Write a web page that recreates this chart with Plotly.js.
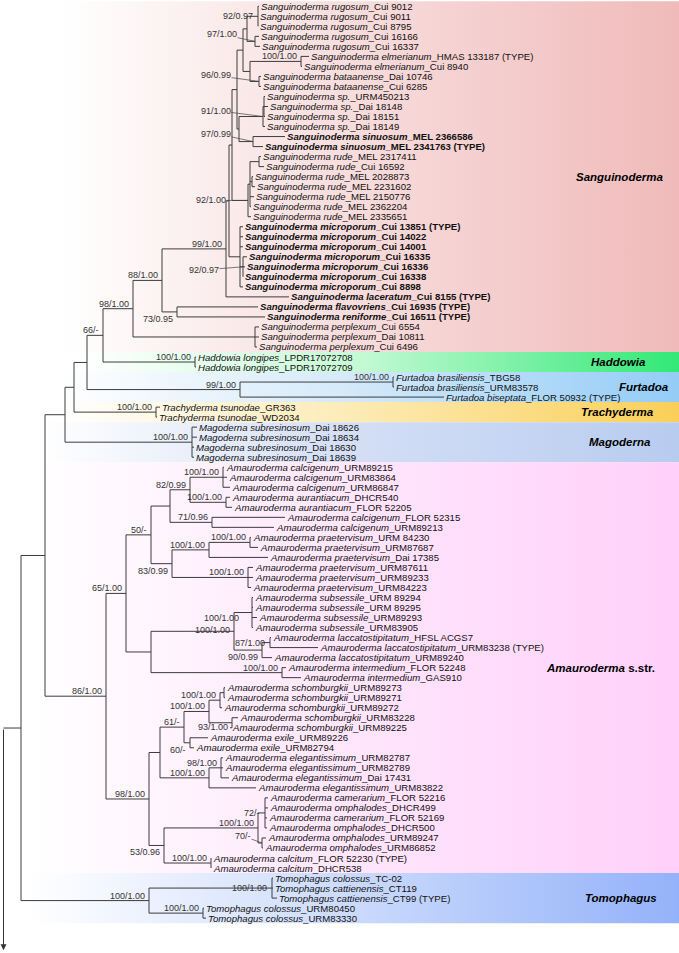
<!DOCTYPE html>
<html><head><meta charset="utf-8">
<script src="https://cdn.plot.ly/plotly-3.0.1.min.js"></script>
<style>html,body{margin:0;padding:0;background:#fff}#chart{width:679px;height:953px}</style>
</head><body><div id="chart"></div>
<script>
// ================= DATA =================
const taxa = [
 'Sanguinoderma rugosum','Sanguinoderma rugosum','Sanguinoderma rugosum','Sanguinoderma rugosum','Sanguinoderma rugosum',
 'Sanguinoderma elmerianum','Sanguinoderma elmerianum',
 'Sanguinoderma bataanense','Sanguinoderma bataanense',
 'Sanguinoderma sp.','Sanguinoderma sp.','Sanguinoderma sp.','Sanguinoderma sp.',
 'Sanguinoderma sinuosum','Sanguinoderma sinuosum',
 'Sanguinoderma rude','Sanguinoderma rude','Sanguinoderma rude','Sanguinoderma rude','Sanguinoderma rude','Sanguinoderma rude','Sanguinoderma rude',
 'Sanguinoderma microporum','Sanguinoderma microporum','Sanguinoderma microporum','Sanguinoderma microporum','Sanguinoderma microporum','Sanguinoderma microporum','Sanguinoderma microporum',
 'Sanguinoderma laceratum','Sanguinoderma flavovriens','Sanguinoderma reniforme',
 'Sanguinoderma perplexum','Sanguinoderma perplexum','Sanguinoderma perplexum',
 'Haddowia longipes','Haddowia longipes',
 'Furtadoa brasiliensis','Furtadoa brasiliensis','Furtadoa biseptata',
 'Trachyderma tsunodae','Trachyderma tsunodae',
 'Magoderna subresinosum','Magoderna subresinosum','Magoderna subresinosum','Magoderna subresinosum',
 'Amauroderma calcigenum','Amauroderma calcigenum','Amauroderma calcigenum','Amauroderma aurantiacum','Amauroderma aurantiacum','Amauroderma calcigenum','Amauroderma calcigenum',
 'Amauroderma praetervisum','Amauroderma praetervisum','Amauroderma praetervisum','Amauroderma praetervisum','Amauroderma praetervisum','Amauroderma praetervisum',
 'Amauroderma subsessile','Amauroderma subsessile','Amauroderma subsessile','Amauroderma subsessile',
 'Amauroderma laccatostipitatum','Amauroderma laccatostipitatum','Amauroderma laccatostipitatum',
 'Amauroderma intermedium','Amauroderma intermedium',
 'Amauroderma schomburgkii','Amauroderma schomburgkii','Amauroderma schomburgkii','Amauroderma schomburgkii','Amauroderma schomburgkii',
 'Amauroderma exile','Amauroderma exile',
 'Amauroderma elegantissimum','Amauroderma elegantissimum','Amauroderma elegantissimum','Amauroderma elegantissimum',
 'Amauroderma camerarium','Amauroderma omphalodes','Amauroderma camerarium','Amauroderma omphalodes','Amauroderma omphalodes','Amauroderma omphalodes',
 'Amauroderma calcitum','Amauroderma calcitum',
 'Tomophagus colossus','Tomophagus cattienensis','Tomophagus cattienensis','Tomophagus colossus','Tomophagus colossus'
];
const vouchers = [
 'Cui 9012','Cui 9011','Cui 8795','Cui 16166','Cui 16337',
 'HMAS 133187 (TYPE)','Cui 8940',
 'Dai 10746','Cui 6285',
 'URM450213','Dai 18148','Dai 18151','Dai 18149',
 'MEL 2366586','MEL 2341763 (TYPE)',
 'MEL 2317411','Cui 16592','MEL 2028873','MEL 2231602','MEL 2150776','MEL 2362204','MEL 2335651',
 'Cui 13851 (TYPE)','Cui 14022','Cui 14001','Cui 16335','Cui 16336','Cui 16338','Cui 8898',
 'Cui 8155 (TYPE)','Cui 16935 (TYPE)','Cui 16511 (TYPE)',
 'Cui 6554','Dai 10811','Cui 6496',
 'LPDR17072708','LPDR17072709',
 'TBG58','URM83578','FLOR 50932 (TYPE)',
 'GR363','WD2034',
 'Dai 18626','Dai 18634','Dai 18630','Dai 18639',
 'URM89215','URM83864','URM86847','DHCR540','FLOR 52205','FLOR 52315','URM89213',
 'URM 84230','URM87687','Dai 17385','URM87611','URM89233','URM84223',
 'URM 89294','URM 89295','URM89293','URM83905',
 'HFSL ACGS7','URM83238 (TYPE)','URM89240',
 'FLOR 52248','GAS910',
 'URM89273','URM89271','URM89272','URM83228','URM89225',
 'URM89226','URM82794',
 'URM82787','URM82789','Dai 17431','URM83822',
 'FLOR 52216','DHCR499','FLOR 52169','DHCR500','URM89247','URM86852',
 'FLOR 52230 (TYPE)','DHCR538',
 'TC-02','CT119','CT99 (TYPE)','URM80450','URM83330'
];
const boldTips = [13,14,22,23,24,25,26,27,28,29,30,31];
const tipDepth = [
 259,258,258,259,260, 309,302, 261,261, 265,268,265,265, 285,263,
 261,264,253,255,254,251,251, 243,243,243,247,245,243,243,
 289,258,265, 259,259,257, 196,196, 394,394,444, 160,157, 197,197,194,194,
 224,227,230,230,232,285,274, 251,258,268,253,253,251, 253,253,257,253,
 271,318,272, 286,301, 225,225,222,238,230, 208,194, 223,223,229,256,
 268,268,267,267,266,263, 211,211, 273,273,277,204,206
];
const tipParent = [
 'RUG1','RUG1','RUG1','RUG2','RUG2','ELM','ELM','BAT','BAT','SPa','SPa','SPa','SP','SIN','SIN',
 'RU1','RU1','RU2','RU2','RUa','RUa','RUDE',
 'MIC','MIC','MIC','M92','M92','M92','MIC',
 'S99','S73','S73','PER','PER','PER','HAD','HAD','FB','FB','FUR','TRA','TRA','MAG','MAG','MAG','MAG',
 'CAL3','CAL3','CAL3','AUR','AUR','C71','C71','PRa','PRa','PR1','PR2','PR2','PR2',
 'SUB','SUB','SUB','SUB','LAC2','LAC2','LAC','INT','INT',
 'S1','S1','S2','S3','S3','XE','XE','EL2','EL2','EL2','EL1',
 'O2','O2','O2','O2','O3','O3','CALC','CALC','TC','TC','TC','TU','TU'
];
const nodeIds     = ['R','G','F','E','D','C','B','SAN','S88','S99','CORE','K1','A3','A1','RUG','RUG1','RUG2','EB','ELM','BAT','A2','SP','SPa','SIN','RUDE','RUa','RU1','RU2','MIC','M92','S73','PER','HAD','FUR','FB','TRA','MAG',
                     'AM','A65','A50','N170','N82','CAL3','AUR','C71','A83','PR1','PRa','PR2','ASUB','SUBL','SUB','LAC','LAC2','INT',
                     'A98','A160','U','W','S2','S1','S3','XE','EL1','EL2','A53','O1','O2','O3','CALC','TOM','TC','TU'];
const nodeParent  = ['','R','G','F','E','D','C','B','SAN','S88','S99','CORE','K1','A3','A1','RUG','RUG','A1','EB','EB','A3','A2','SP','A2','K1','RUDE','RUa','RUa','CORE','MIC','S88','SAN','B','C','FUR','D','E',
                     'F','AM','A65','A50','N170','N82','N82','N170','A50','A83','PR1','A83','A65','ASUB','SUBL','SUBL','LAC','ASUB',
                     'AM','A98','A160','U','W','S2','W','U','A160','EL1','A98','A53','O1','O1','A53','G','TOM','TOM'];
const nodeDepth   = [3.5,21,45,65,74,87,103,133,162,226,229,232,237,243,247,258,255,250,301,259,239,263,264,253,248,250,259,252,240,243,177,255,195,240,393,156,192,
                     106,126,151,170,190,223,226,212,172,209,250,248,151,234,252,262,270,282,
                     149,160,184,209,220,224,232,190,209,221,164,258,265,262,211,149,272,203];
const nodeSupport = ['','','','','','','66/-','98/1.00','88/1.00','99/1.00','','','','','','92/0.97','97/1.00','','100/1.00','96/0.99','','91/1.00','','97/0.99','92/1.00','','','','','92/0.97','73/0.95','','100/1.00','99/1.00','100/1.00','100/1.00','100/1.00',
                     '86/1.00','65/1.00','50/-','','82/0.99','100/1.00','100/1.00','71/0.96','83/0.99','100/1.00','100/1.00','100/1.00','','100/1.00','100/1.00','90/0.99','87/1.00','100/1.00',
                     '98/1.00','','61/-','100/1.00','100/1.00','','93/1.00','60/-','100/1.00','98/1.00','53/0.96','100/1.00','72/-','70/-','100/1.00','100/1.00','100/1.00','100/1.00'];
const cladeNames = ['<b><i>Sanguinoderma</i></b>','<b><i>Haddowia</i></b>','<b><i>Furtadoa</i></b>','<b><i>Trachyderma</i></b>','<b><i>Magoderna</i></b>','<b><i>Amauroderma</i> s.str.</b>','<b><i>Tomophagus</i></b>'];
const cladeFirst = [0,35,37,40,42,46,87];
const cladeLast  = [34,36,39,41,45,86,91];

// ================= STYLE / LAYOUT =================
const FONT = 'Arial, "Liberation Sans", sans-serif';
const cladeColors = ['rgb(240,186,186)','rgb(50,232,118)','rgb(148,204,246)','rgb(250,207,88)','rgb(184,204,240)','rgb(255,208,250)','rgb(148,178,250)'];
const cladeMid    = ['rgb(248,222,222)','rgb(200,250,215)','rgb(214,234,250)','rgb(253,236,185)','rgb(214,224,246)','rgb(255,232,252)','rgb(208,222,252)'];
const cladeStartX = [60,80,60,60,40,30,30];
const cladeLabelX = [620,618,644,617,620,600,621];
const supportStyle = {
  RUG1:{m:'left'}, O2:{m:'left'}, TC:{m:'left'}, LAC2:{m:'left'},
  A83:{m:'below'}, S73:{m:'below'}, A53:{m:'below'}, LAC:{m:'below'}, XE:{m:'below'},
  S3:{m:'custom',xs:-3,ys:-4.5}, SUB:{m:'custom',xs:-12,ys:-5.5}, SUBL:{m:'above',ys:-4.5},
  RUG2:{m:'lead',ax:-33,ay:-7}, BAT:{m:'lead',ax:-43,ay:-6}, SP:{m:'lead',ax:-47,ay:-6}, SIN:{m:'lead',ax:-37,ay:-8},
  RUDE:{m:'lead',ax:-37,ay:0}, M92:{m:'lead',ax:-39,ay:3}, O3:{m:'lead',ax:-19,ay:-7}
};

// ================= TREE GEOMETRY =================
const depthOf = {}; nodeIds.forEach((id,k)=>depthOf[id]=nodeDepth[k]);
const kids = {};
tipParent.forEach((p,i)=>{(kids[p]=kids[p]||[]).push({leaf:i});});
nodeIds.forEach((id,k)=>{const p=nodeParent[k]; if(p)(kids[p]=kids[p]||[]).push({node:id});});
const yOf = {};
function nodeY(id){
  if(yOf[id]!==undefined) return yOf[id];
  const ys = kids[id].map(c=>c.leaf!==undefined?c.leaf:nodeY(c.node));
  const y=(Math.min(...ys)+Math.max(...ys))/2; yOf[id]=y; return y;
}
nodeIds.forEach(nodeY);

const lx=[], ly=[];
nodeIds.forEach(id=>{
  const d=depthOf[id];
  const cs=kids[id].map(c=>c.leaf!==undefined?{y:c.leaf,x:tipDepth[c.leaf]}:{y:yOf[c.node],x:depthOf[c.node]});
  const ys=cs.map(c=>c.y);
  if(cs.length>1){ lx.push(d,d,null); ly.push(Math.min(...ys),Math.max(...ys),null); }
  cs.forEach(c=>{ lx.push(d,c.x,null); ly.push(c.y,c.y,null); });
});

const traces=[];
cladeNames.forEach((n,k)=>{
  const y0=cladeFirst[k]-0.5, y1=cladeLast[k]+0.5, x0=cladeStartX[k], x1=679;
  traces.push({type:'scatter',mode:'lines',x:[x0,x1,x1,x0,x0],y:[y0,y0,y1,y1,y0],fill:'toself',
    line:{width:0,color:'rgba(0,0,0,0)'},hoverinfo:'skip',showlegend:false,
    fillgradient:{type:'horizontal',start:x0,stop:x1,colorscale:[[0,'rgb(255,255,255)'],[0.45,cladeMid[k]],[1,cladeColors[k]]]}});
});
traces.push({type:'scatter',mode:'lines',x:lx,y:ly,line:{color:'#3c3c3c',width:1},hoverinfo:'skip',showlegend:false,connectgaps:false});

const ann=[];
taxa.forEach((t,i)=>{
  let txt='<i>'+t+'</i>_'+vouchers[i];
  if(boldTips.includes(i)) txt='<b>'+txt+'</b>';
  ann.push({x:tipDepth[i],y:i,text:txt,xanchor:'left',yanchor:'middle',xshift:1,showarrow:false,borderpad:0,
    font:{family:FONT,size:9.6,color:'#111'}});
});
nodeIds.forEach((id,k)=>{
  const s=nodeSupport[k]; if(!s) return;
  const st=supportStyle[id]||{m:'above'};
  const base={x:depthOf[id],y:yOf[id],text:s,font:{family:FONT,size:9,color:'#333'},borderpad:0};
  if(st.m==='above') Object.assign(base,{showarrow:false,xanchor:'right',yanchor:'bottom',xshift:-3,yshift:(st.ys!==undefined?st.ys:-1)});
  else if(st.m==='below') Object.assign(base,{showarrow:false,xanchor:'right',yanchor:'top',xshift:-3,yshift:-1});
  else if(st.m==='left') Object.assign(base,{showarrow:false,xanchor:'right',yanchor:'middle',xshift:-4});
  else if(st.m==='custom') Object.assign(base,{showarrow:false,xanchor:'right',yanchor:'middle',xshift:st.xs,yshift:st.ys});
  else Object.assign(base,{showarrow:true,arrowhead:0,arrowwidth:0.7,arrowcolor:'#444',ax:st.ax,ay:st.ay,standoff:0,startstandoff:0});
  ann.push(base);
});
cladeNames.forEach((n,k)=>{
  ann.push({x:cladeLabelX[k],y:(cladeFirst[k]+cladeLast[k])/2,text:n,showarrow:false,xanchor:'center',yanchor:'middle',
    font:{family:FONT,size:11.5,color:'#000'}});
});
ann.push({x:depthOf['R'],y:94.2,ax:depthOf['R'],ay:yOf['G'],axref:'x',ayref:'y',xref:'x',yref:'y',text:'',showarrow:true,
  arrowhead:2,arrowsize:1.2,arrowwidth:1,arrowcolor:'#333',standoff:0});

const layout={width:679,height:953,margin:{l:0,r:0,t:0,b:0},paper_bgcolor:'#fff',plot_bgcolor:'#fff',
  xaxis:{range:[0,679],visible:false,fixedrange:true},
  yaxis:{range:[94.48,-0.629],visible:false,fixedrange:true},
  showlegend:false,annotations:ann};
Plotly.newPlot('chart',traces,layout,{staticPlot:true,displayModeBar:false});
</script></body></html>
